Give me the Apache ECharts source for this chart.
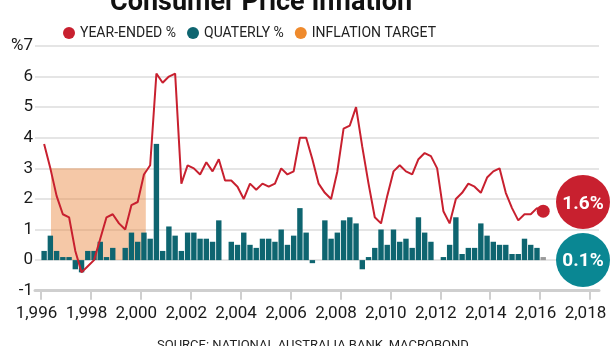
<!DOCTYPE html>
<html>
<head>
<meta charset="utf-8">
<script src="https://cdn.jsdelivr.net/npm/echarts@6/dist/echarts.min.js"></script>
<style>
html,body{margin:0;padding:0;background:#fff;}
#chart{width:616px;height:346px;}
</style>
</head>
<body>
<div id="chart"></div>
<script>
// ---- Data ----
const firstYear = 1996;
// Year-ended CPI %, quarterly from 1996 Q1 to 2016 Q1
const yearEnded = [
  3.8, 3.0, 2.1, 1.5,  1.4, 0.3, -0.4, -0.2,  0.0, 0.7, 1.4, 1.5,
  1.2, 1.0, 1.8, 1.9,  2.8, 3.1, 6.1, 5.8,  6.0, 6.1, 2.5, 3.1,
  3.0, 2.8, 3.2, 2.9,  3.3, 2.6, 2.6, 2.4,  2.0, 2.5, 2.3, 2.5,
  2.4, 2.5, 3.0, 2.8,  2.9, 4.0, 4.0, 3.3,  2.5, 2.2, 2.0, 2.9,
  4.3, 4.4, 5.0, 3.7,  2.5, 1.4, 1.2, 2.1,  2.9, 3.1, 2.9, 2.8,
  3.3, 3.5, 3.4, 3.0,  1.6, 1.2, 2.0, 2.2,  2.5, 2.4, 2.2, 2.7,
  2.9, 3.0, 2.2, 1.7,  1.3, 1.5, 1.5, 1.7,  1.6
];
// Quarterly CPI %, same quarters
const quarterly = [
  0.3, 0.8, 0.3, 0.1,  0.1, -0.3, -0.4, 0.3,  0.3, 0.6, 0.1, 0.4,
  0.0, 0.4, 0.9, 0.6,  0.9, 0.7, 3.8, 0.3,  1.1, 0.8, 0.3, 0.9,
  0.9, 0.7, 0.7, 0.6,  1.3, 0.0, 0.6, 0.5,  0.9, 0.5, 0.4, 0.7,
  0.7, 0.6, 1.0, 0.5,  0.8, 1.7, 0.9, -0.1,  0.0, 1.3, 0.7, 0.9,
  1.3, 1.4, 1.2, -0.3,  0.1, 0.4, 1.0, 0.5,  1.0, 0.6, 0.7, 0.4,
  1.4, 0.9, 0.6, 0.0,  0.1, 0.5, 1.4, 0.2,  0.4, 0.4, 1.2, 0.8,
  0.6, 0.5, 0.5, 0.2,  0.2, 0.7, 0.5, 0.4,  0.1
];
// Inflation target shaded band (years, percent)
const targetYears = [1996.4, 2000.2];
const targetRange = [0, 3];
// Axis ticks
const xTicks = [1996, 1998, 2000, 2002, 2004, 2006, 2008, 2010, 2012, 2014, 2016, 2018];
const yTicks = [-1, 0, 1, 2, 3, 4, 5, 6, 7];
const seriesNames = ['YEAR-ENDED %', 'QUATERLY %', 'INFLATION TARGET'];

// ---- Build ----
const quarters = yearEnded.map((_, i) => ({ year: firstYear + Math.floor(i / 4), q: i % 4 + 1 }));
const xOf = qq => qq.year + (qq.q - 0.5) / 4;

const RED = '#c8202f', TEAL = '#0e6570', ORANGE = '#ef8a2c', TEAL2 = '#0a8793';
const FONT = 'Roboto';
const lastIdx = yearEnded.length - 1;

const lineData = yearEnded.map((v, i) => [xOf(quarters[i]), v]);
const barData = quarterly.map((v, i) => {
  const item = { value: [xOf(quarters[i]), v] };
  if (i === lastIdx) item.itemStyle = { color: '#9a9a9a' };
  return item;
});

const chart = echarts.init(document.getElementById('chart'), null, { renderer: 'canvas' });
chart.setOption({
  animation: false,
  backgroundColor: '#fff',
  textStyle: { fontFamily: FONT },
  title: [
    { text: 'Consumer Price Inflation', left: 110, top: -10, padding: 0,
      textStyle: { fontFamily: FONT, fontWeight: 'bold', fontSize: 27, color: '#111' } },
    { text: 'SOURCE: NATIONAL AUSTRALIA BANK, MACROBOND', left: 157, top: 339, padding: 0,
      textStyle: { fontFamily: FONT, fontWeight: 'normal', fontSize: 13, color: '#222' } }
  ],
  legend: {
    data: seriesNames,
    left: 63, top: 26, padding: 0,
    icon: 'circle', itemWidth: 12, itemHeight: 12, itemGap: 11,
    textStyle: { fontFamily: FONT, fontSize: 14, color: '#222' }
  },
  grid: { left: 35, right: 17, top: 46, bottom: 55.3, containLabel: false },
  xAxis: {
    type: 'value',
    min: 1996 - 6 / 24.955,
    max: 2018 + 9 / 24.955,
    splitLine: { show: false },
    axisLine: { onZero: false, lineStyle: { color: '#cfcfcf', width: 3 } },
    axisTick: { customValues: xTicks, length: 9, lineStyle: { color: '#cfcfcf', width: 2 } },
    axisLabel: { customValues: xTicks, margin: 15, padding: [0, 9, 0, 0], fontFamily: FONT, fontSize: 17, color: '#1a1a1a' }
  },
  yAxis: {
    type: 'value',
    min: yTicks[0], max: yTicks[yTicks.length - 1], interval: 1,
    axisLine: { show: false },
    axisTick: { show: false },
    splitLine: { lineStyle: { color: '#dcdcdc', width: 1.5 } },
    axisLabel: {
      margin: 2, fontFamily: FONT, fontSize: 17, color: '#1a1a1a',
      formatter: v => (v === yTicks[yTicks.length - 1] ? '%' + v : String(v))
    }
  },
  series: [
    {
      name: seriesNames[2], type: 'line', data: [], z: 1,
      itemStyle: { color: ORANGE }, lineStyle: { color: ORANGE },
      markArea: {
        silent: true,
        itemStyle: { color: 'rgba(234,140,72,0.48)' },
        data: [[{ xAxis: targetYears[0], yAxis: targetRange[0] }, { xAxis: targetYears[1], yAxis: targetRange[1] }]]
      }
    },
    {
      name: seriesNames[1], type: 'bar', data: barData, barWidth: 5.4, z: 2,
      itemStyle: { color: TEAL }
    },
    {
      name: seriesNames[0], type: 'line', data: lineData, z: 3,
      symbol: 'none', smooth: false,
      itemStyle: { color: RED },
      lineStyle: { color: RED, width: 2 }
    },
    {
      name: 'end', type: 'scatter', z: 4,
      data: [lineData[lastIdx]], symbol: 'circle', symbolSize: 13,
      itemStyle: { color: RED, opacity: 1 }
    }
  ],
  graphic: [
    { type: 'circle', shape: { cx: 583, cy: 202, r: 27 }, style: { fill: RED }, z: 100 },
    { type: 'text', x: 583, y: 204, z: 101,
      style: { text: yearEnded[lastIdx].toFixed(1) + '%', fill: '#fff', font: 'bold 19px Roboto',
               align: 'center', verticalAlign: 'middle', textAlign: 'center', textVerticalAlign: 'middle' } },
    { type: 'circle', shape: { cx: 583, cy: 260, r: 27 }, style: { fill: TEAL2 }, z: 100 },
    { type: 'text', x: 583, y: 261, z: 101,
      style: { text: quarterly[lastIdx].toFixed(1) + '%', fill: '#fff', font: 'bold 19px Roboto',
               align: 'center', verticalAlign: 'middle', textAlign: 'center', textVerticalAlign: 'middle' } }
  ]
});
</script>
</body>
</html>
